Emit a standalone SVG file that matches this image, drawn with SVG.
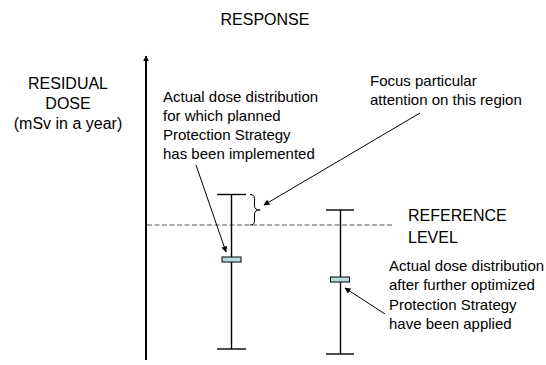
<svg xmlns="http://www.w3.org/2000/svg" width="546" height="365" viewBox="0 0 546 365">
<style>
text{font-family:"Liberation Sans",Arial,sans-serif;fill:#000}
.lbl{font-size:16px}
.ann{font-size:15px}
.ln{stroke:#000;stroke-width:1.4;fill:none}
.thin{stroke:#000;stroke-width:1;fill:none}
.box{fill:#b7dde1;stroke:#000;stroke-width:1}
</style>
<defs>
<marker id="ah" viewBox="0 0 10 10" refX="9" refY="5" markerWidth="7" markerHeight="6" orient="auto-start-reverse" markerUnits="userSpaceOnUse">
<path d="M0,0 L10,5 L0,10 z" fill="#000"/>
</marker>
<marker id="axh" viewBox="0 0 10 10" refX="9" refY="5" markerWidth="6" markerHeight="6" orient="auto" markerUnits="userSpaceOnUse">
<path d="M0,0 L10,5 L0,10 z" fill="#000"/>
</marker>
</defs>
<rect width="546" height="365" fill="#fff"/>
<g id="title"><text class="lbl" x="265" y="25" text-anchor="middle">RESPONSE</text></g>
<g id="ylabel">
<text class="lbl" x="68" y="89" text-anchor="middle">RESIDUAL</text>
<text class="lbl" x="68" y="109" text-anchor="middle">DOSE</text>
<text class="lbl" x="68" y="129" text-anchor="middle">(mSv in a year)</text>
</g>
<g id="axis"><line x1="146" y1="360" x2="146" y2="56" stroke="#000" stroke-width="2" marker-end="url(#axh)"/></g>
<g id="reflevel">
<line x1="147" y1="225" x2="393" y2="225" stroke="#555" stroke-width="1" stroke-dasharray="5,2.5"/>
<text class="lbl" x="408" y="221">REFERENCE</text>
<text class="lbl" x="408" y="243">LEVEL</text>
</g>
<g id="bar1">
<line class="ln" x1="217" y1="194.5" x2="246" y2="194.5"/>
<line class="ln" x1="231.5" y1="194.5" x2="231.5" y2="349"/>
<line class="ln" x1="217" y1="349" x2="246" y2="349"/>
<rect class="box" x="222" y="257" width="19" height="5"/>
</g>
<g id="bar2">
<line class="ln" x1="326" y1="210" x2="354" y2="210"/>
<line class="ln" x1="340.5" y1="210" x2="340.5" y2="354"/>
<line class="ln" x1="326" y1="354" x2="354" y2="354"/>
<rect class="box" x="330.5" y="277" width="19" height="5"/>
</g>
<g id="brace"><path class="thin" d="M250,194.5 Q254.5,194.5 254.5,198.5 L254.5,206 Q254.5,210 260,210 Q254.5,210 254.5,214 L254.5,221 Q254.5,225 250,225"/></g>
<g id="note1">
<text class="ann" x="163" y="102">Actual dose distribution</text>
<text class="ann" x="163" y="121">for which planned</text>
<text class="ann" x="163" y="140">Protection Strategy</text>
<text class="ann" x="163" y="159">has been implemented</text>
</g>
<g id="note2">
<text class="ann" x="370" y="86">Focus particular</text>
<text class="ann" x="370" y="105">attention on this region</text>
</g>
<g id="note3">
<text class="ann" x="389" y="271">Actual dose distribution</text>
<text class="ann" x="389" y="290">after further optimized</text>
<text class="ann" x="389" y="310">Protection Strategy</text>
<text class="ann" x="389" y="329">have been applied</text>
</g>
<g id="connectors">
<line class="thin" x1="196" y1="165" x2="226" y2="252" marker-end="url(#ah)"/>
<line class="thin" x1="420" y1="113" x2="264" y2="205" marker-end="url(#ah)"/>
<line class="thin" x1="385" y1="314" x2="345" y2="288" marker-end="url(#ah)"/>
</g>
</svg>
